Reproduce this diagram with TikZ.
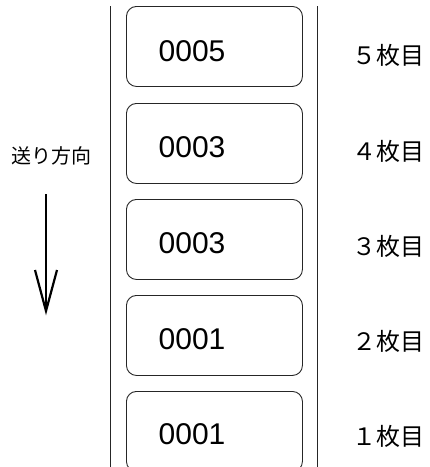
\documentclass[tikz,border=0pt]{standalone}
\usepackage{fontspec}
\usetikzlibrary{calc}
\setmainfont{Liberation Sans}
\newfontfamily\jp{Noto Sans CJK JP}
\begin{document}
\begin{tikzpicture}[x=1pt,y=-1pt,
  label box/.style={draw=black!85, line width=0.9pt, rounded corners=10pt,
    minimum width=176pt, minimum height=80pt, inner sep=0pt, anchor=north west},
  num/.style={font=\fontsize{30}{30}\selectfont, inner sep=0pt, anchor=west},
  side/.style={font=\jp\fontsize{24}{24}\selectfont, inner sep=0pt, anchor=west},
  rail/.style={draw=black!85, line width=0.9pt}]
\useasboundingbox (0,0) rectangle (430,467);
\clip (0,0) rectangle (430,467);
% rails
\coordinate (l1) at (110,6);
\coordinate (l2) at (110,468);
\coordinate (r1) at (317.7,6);
\coordinate (r2) at (317.7,468);
\draw[rail] (l1) -- (l2);
\draw[rail] (r1) -- (r2);
% boxes
\node[label box] (b1) at (126,6) {};
\node[label box] (b2) at (126,103) {};
\node[label box] (b3) at (126,199) {};
\node[label box] (b4) at (126,295) {};
\node[label box] (b5) at (126,391) {};
% numbers
\node[num] (n1) at (158.5,51.5) {0005};
\node[num] (n2) at (158.5,147.5) {0003};
\node[num] (n3) at (158.5,243.5) {0003};
\node[num] (n4) at (158.5,339) {0001};
\node[num] (n5) at (158.5,434.5) {0001};
% side labels
\node[side] (s1) at (352.5,55.5) {５枚目};
\node[side] (s2) at (352.5,151) {４枚目};
\node[side] (s3) at (352.5,246) {３枚目};
\node[side] (s4) at (352.5,341) {２枚目};
\node[side] (s5) at (352.5,436) {１枚目};
% direction
\node[font=\jp\fontsize{20}{20}\selectfont, inner sep=0pt, anchor=west] (dir) at (11,155.5) {送り方向};
\coordinate (atop) at (46,194);
\coordinate (atip) at (46,311);
\coordinate (aleft) at (35,270);
\coordinate (aright) at (57,270);
\draw[line width=2.2pt] (atop) -- ($(atip)+(0,-3)$);
\draw[line width=2.2pt, line join=miter, miter limit=20] (aleft) -- (atip) -- (aright);
\end{tikzpicture}
\end{document}
